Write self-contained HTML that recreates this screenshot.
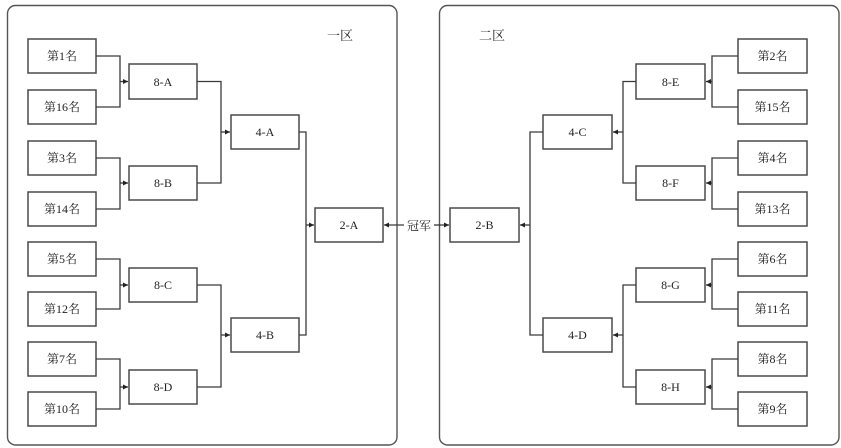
<!DOCTYPE html>
<html><head><meta charset="utf-8"><style>
html,body{margin:0;padding:0;background:#fff;}
svg{display:block;}
text{font-family:"Liberation Serif","Noto Serif CJK SC",serif;font-size:12px;fill:#222;}
</style></head><body>
<svg width="841" height="448" viewBox="0 0 841 448" xmlns="http://www.w3.org/2000/svg">
<defs>
<marker id="ar" markerWidth="6" markerHeight="6" refX="5" refY="3" orient="auto" markerUnits="userSpaceOnUse">
<path d="M0,0.5 L5,3 L0,5.5 Z" fill="#222"/>
</marker>
</defs>
<g fill="none" stroke="#555" stroke-width="1.4">
<rect x="7.5" y="5.5" width="389.5" height="439.5" rx="8"/>
<rect x="439.5" y="5.5" width="399.5" height="439.5" rx="8"/>
</g>
<text x="340" y="40" text-anchor="middle" style="font-size:13px">一区</text>
<text x="492" y="40" text-anchor="middle" style="font-size:13px">二区</text>

<g fill="#fff" stroke="#4a4a4a" stroke-width="1.5">
<rect x="28" y="39" width="68" height="34"/>
<rect x="28" y="90" width="68" height="34"/>
<rect x="28" y="141" width="68" height="34"/>
<rect x="28" y="192" width="68" height="34"/>
<rect x="28" y="242" width="68" height="34"/>
<rect x="28" y="292" width="68" height="34"/>
<rect x="28" y="342" width="68" height="34"/>
<rect x="28" y="392" width="68" height="34"/>
<rect x="129" y="64" width="68" height="35"/>
<rect x="129" y="166" width="68" height="34"/>
<rect x="129" y="268" width="68" height="34"/>
<rect x="129" y="370" width="68" height="34"/>
<rect x="231" y="115" width="68" height="34"/>
<rect x="231" y="318" width="68" height="34"/>
<rect x="315" y="208" width="68" height="34"/>
<rect x="450" y="208" width="69" height="34"/>
<rect x="543" y="115" width="69" height="34"/>
<rect x="543" y="318" width="69" height="34"/>
<rect x="636" y="64" width="69" height="35"/>
<rect x="636" y="166" width="69" height="34"/>
<rect x="636" y="268" width="69" height="34"/>
<rect x="636" y="370" width="69" height="34"/>
<rect x="738" y="39" width="69" height="34"/>
<rect x="738" y="90" width="69" height="34"/>
<rect x="738" y="141" width="69" height="34"/>
<rect x="738" y="192" width="69" height="34"/>
<rect x="738" y="242" width="69" height="34"/>
<rect x="738" y="292" width="69" height="34"/>
<rect x="738" y="342" width="69" height="34"/>
<rect x="738" y="392" width="69" height="34"/>
</g>

<g fill="none" stroke="#3a3a3a" stroke-width="1.3">
<path d="M96,56 H120 V107 H96"/>
<path d="M96,158 H120 V209 H96"/>
<path d="M96,259 H120 V309 H96"/>
<path d="M96,359 H120 V409 H96"/>
<path d="M120,81.5 H128" marker-end="url(#ar)"/>
<path d="M120,183 H128" marker-end="url(#ar)"/>
<path d="M120,285 H128" marker-end="url(#ar)"/>
<path d="M120,387 H128" marker-end="url(#ar)"/>
<path d="M197,81.5 H221 V183 H197"/>
<path d="M197,285 H221 V387 H197"/>
<path d="M221,132 H230" marker-end="url(#ar)"/>
<path d="M221,335 H230" marker-end="url(#ar)"/>
<path d="M299,132 H306 V335 H299"/>
<path d="M306,225 H314" marker-end="url(#ar)"/>
<path d="M404,225 H384" marker-end="url(#ar)"/>
<path d="M434,225 H449" marker-end="url(#ar)"/>
<path d="M543,132 H530 V335 H543"/>
<path d="M530,225 H520" marker-end="url(#ar)"/>
<path d="M636,81.5 H623 V183 H636"/>
<path d="M636,285 H623 V387 H636"/>
<path d="M623,132 H613" marker-end="url(#ar)"/>
<path d="M623,335 H613" marker-end="url(#ar)"/>
<path d="M738,56 H712 V107 H738"/>
<path d="M738,158 H712 V209 H738"/>
<path d="M738,259 H712 V309 H738"/>
<path d="M738,359 H712 V409 H738"/>
<path d="M712,81.5 H706" marker-end="url(#ar)"/>
<path d="M712,183 H706" marker-end="url(#ar)"/>
<path d="M712,285 H706" marker-end="url(#ar)"/>
<path d="M712,387 H706" marker-end="url(#ar)"/>
</g>

<g text-anchor="middle">
<text x="62" y="60">第1名</text>
<text x="62" y="111">第16名</text>
<text x="62" y="162">第3名</text>
<text x="62" y="213">第14名</text>
<text x="62" y="263">第5名</text>
<text x="62" y="313">第12名</text>
<text x="62" y="363">第7名</text>
<text x="62" y="413">第10名</text>

<text x="163" y="86">8-A</text>
<text x="163" y="187">8-B</text>
<text x="163" y="289">8-C</text>
<text x="163" y="391">8-D</text>

<text x="265" y="136">4-A</text>
<text x="265" y="339">4-B</text>

<text x="349" y="229">2-A</text>
<text x="484.5" y="229">2-B</text>
<text x="419" y="230">冠军</text>

<text x="577.5" y="136">4-C</text>
<text x="577.5" y="339">4-D</text>

<text x="670.5" y="86">8-E</text>
<text x="670.5" y="187">8-F</text>
<text x="670.5" y="289">8-G</text>
<text x="670.5" y="391">8-H</text>

<text x="772.5" y="60">第2名</text>
<text x="772.5" y="111">第15名</text>
<text x="772.5" y="162">第4名</text>
<text x="772.5" y="213">第13名</text>
<text x="772.5" y="263">第6名</text>
<text x="772.5" y="313">第11名</text>
<text x="772.5" y="363">第8名</text>
<text x="772.5" y="413">第9名</text>
</g>
</svg>
</body></html>
